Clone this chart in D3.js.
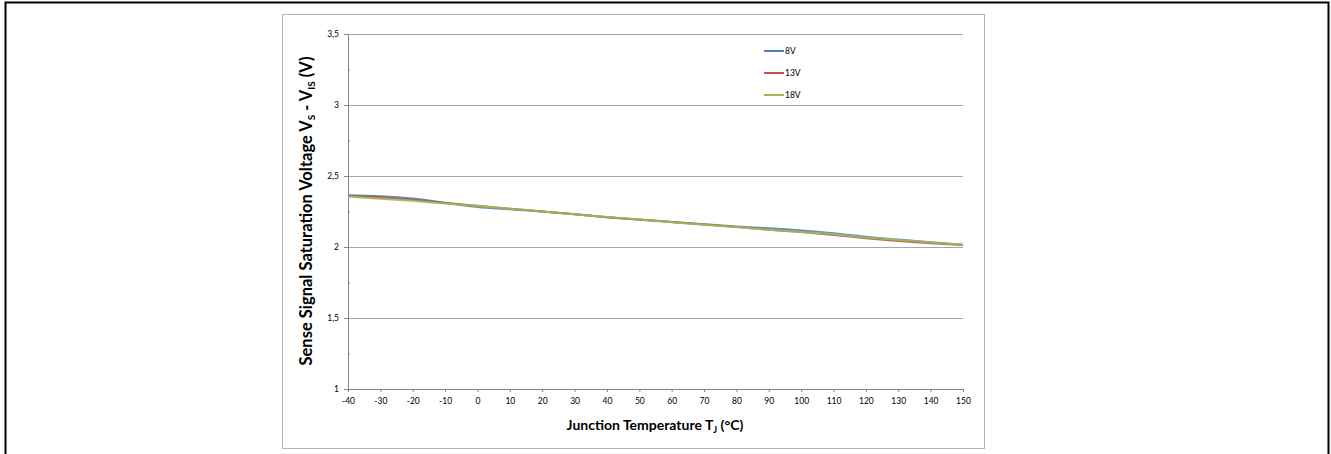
<!DOCTYPE html>
<html><head>
<meta charset="utf-8">
<script src="https://d3js.org/d3.v7.min.js"></script>
<style>
  body { margin: 0; background: #fff; }
  svg text { font-family: Lato, "Open Sans", sans-serif; fill: #000; }
  .tick text { font-size: 8.5px; }
  .grid line { stroke: #a6a6a6; }
  .grid .domain { stroke: none; }
  .axis path, .axis line { stroke: #868686; }
  .title { font-size: 14px; font-weight: bold; }
  .legend text { font-size: 8.5px; }
</style>
</head>
<body>
<svg id="chart" width="1331" height="454"></svg>
<script>
// data
let temps = [-40, -30, -20, -10, 0, 10, 20, 30, 40, 50, 60, 70, 80, 90, 100, 110, 120, 130, 140, 150];
let v8  = [2.365, 2.358, 2.342, 2.312, 2.282, 2.265, 2.250, 2.230, 2.210, 2.192, 2.176, 2.160, 2.145, 2.132, 2.117, 2.097, 2.072, 2.052, 2.033, 2.015];
let v13 = [2.360, 2.350, 2.332, 2.310, 2.290, 2.270, 2.250, 2.230, 2.210, 2.194, 2.176, 2.158, 2.140, 2.122, 2.105, 2.085, 2.062, 2.042, 2.026, 2.014];
let v18 = [2.355, 2.340, 2.325, 2.306, 2.288, 2.269, 2.250, 2.230, 2.211, 2.194, 2.175, 2.157, 2.140, 2.121, 2.106, 2.090, 2.067, 2.050, 2.032, 2.016];
let seriesNames = ["8V", "13V", "18V"];
let seriesColors = ["#4F81BD", "#C0504D", "#9BBB59"];
let yTicks = [1, 1.5, 2, 2.5, 3, 3.5];
let yMinor = [1.25, 1.75, 2.25, 2.75, 3.25];

let svg = d3.select("svg#chart");

// outer border and chart frame
svg.append("path").attr("d", "M5.5,454 V2.5 H1328.5 V454")
  .attr("fill", "none").attr("stroke", "#000").attr("stroke-width", 2);
svg.append("rect").attr("x", 282.5).attr("y", 14.5).attr("width", 702).attr("height", 434)
  .attr("fill", "#fff").attr("stroke", "#b3b3b3");

let margin = { left: 348, top: 34, right: 963, bottom: 389 };
let x = d3.scaleLinear().domain([-40, 150]).range([margin.left, margin.right]);
let y = d3.scaleLinear().domain([1, 3.5]).range([margin.bottom, margin.top]);
let fmt = d => String(d).replace(".", ",");

// gridlines
svg.append("g").attr("class", "grid")
  .attr("transform", "translate(" + margin.left + ",0)")
  .call(d3.axisLeft(y).tickValues(yTicks.slice(1)).tickSize(-(margin.right - margin.left)).tickFormat(""));

// minor ticks on y
svg.append("g").attr("class", "axis")
  .attr("transform", "translate(" + margin.left + ",0)")
  .call(d3.axisRight(y).tickValues(yMinor).tickSize(2).tickFormat(""))
  .select(".domain").remove();

// y axis
svg.append("g").attr("class", "axis")
  .attr("transform", "translate(" + margin.left + ",0)")
  .call(d3.axisLeft(y).tickValues(yTicks).tickSize(4).tickSizeOuter(0).tickPadding(5).tickFormat(fmt));

// x axis
svg.append("g").attr("class", "axis")
  .attr("transform", "translate(0," + margin.bottom + ")")
  .call(d3.axisBottom(x).tickValues(temps).tickSize(3).tickSizeOuter(0).tickPadding(6).tickFormat(d => d));

// lines
let line = d3.line().x((d, i) => x(temps[i])).y(d => y(d)).curve(d3.curveMonotoneX);
[v8, v13, v18].forEach((vals, i) => {
  svg.append("path").datum(vals)
    .attr("d", line)
    .attr("fill", "none")
    .attr("stroke", seriesColors[i])
    .attr("stroke-width", 2)
    .attr("stroke-opacity", 0.9);
});

// legend
let legend = svg.append("g").attr("class", "legend");
seriesNames.forEach((name, i) => {
  let ly = 51 + i * 22;
  legend.append("line").attr("x1", 764).attr("x2", 784).attr("y1", ly).attr("y2", ly)
    .attr("stroke", seriesColors[i]).attr("stroke-width", 2);
  legend.append("text").attr("x", 785).attr("y", ly + 3).text(name);
});

// axis titles
let xt = svg.append("text").attr("class", "title")
  .attr("x", 655).attr("y", 430).attr("text-anchor", "middle");
xt.append("tspan").text("Junction Temperature T");
xt.append("tspan").style("font-size", "9px").attr("dy", 3).text("J");
xt.append("tspan").attr("dy", -3).text(" (°C)");

let yt = svg.append("text").attr("class", "title")
  .style("font-size", "16.5px")
  .attr("transform", "translate(312,211) rotate(-90)").attr("text-anchor", "middle");
yt.append("tspan").text("Sense Signal Saturation Voltage V");
yt.append("tspan").style("font-size", "10px").attr("dy", 3).text("S");
yt.append("tspan").attr("dy", -3).text(" - V");
yt.append("tspan").style("font-size", "10px").attr("dy", 3).text("IS");
yt.append("tspan").attr("dy", -3).text(" (V)");
</script>
</body>
</html>
